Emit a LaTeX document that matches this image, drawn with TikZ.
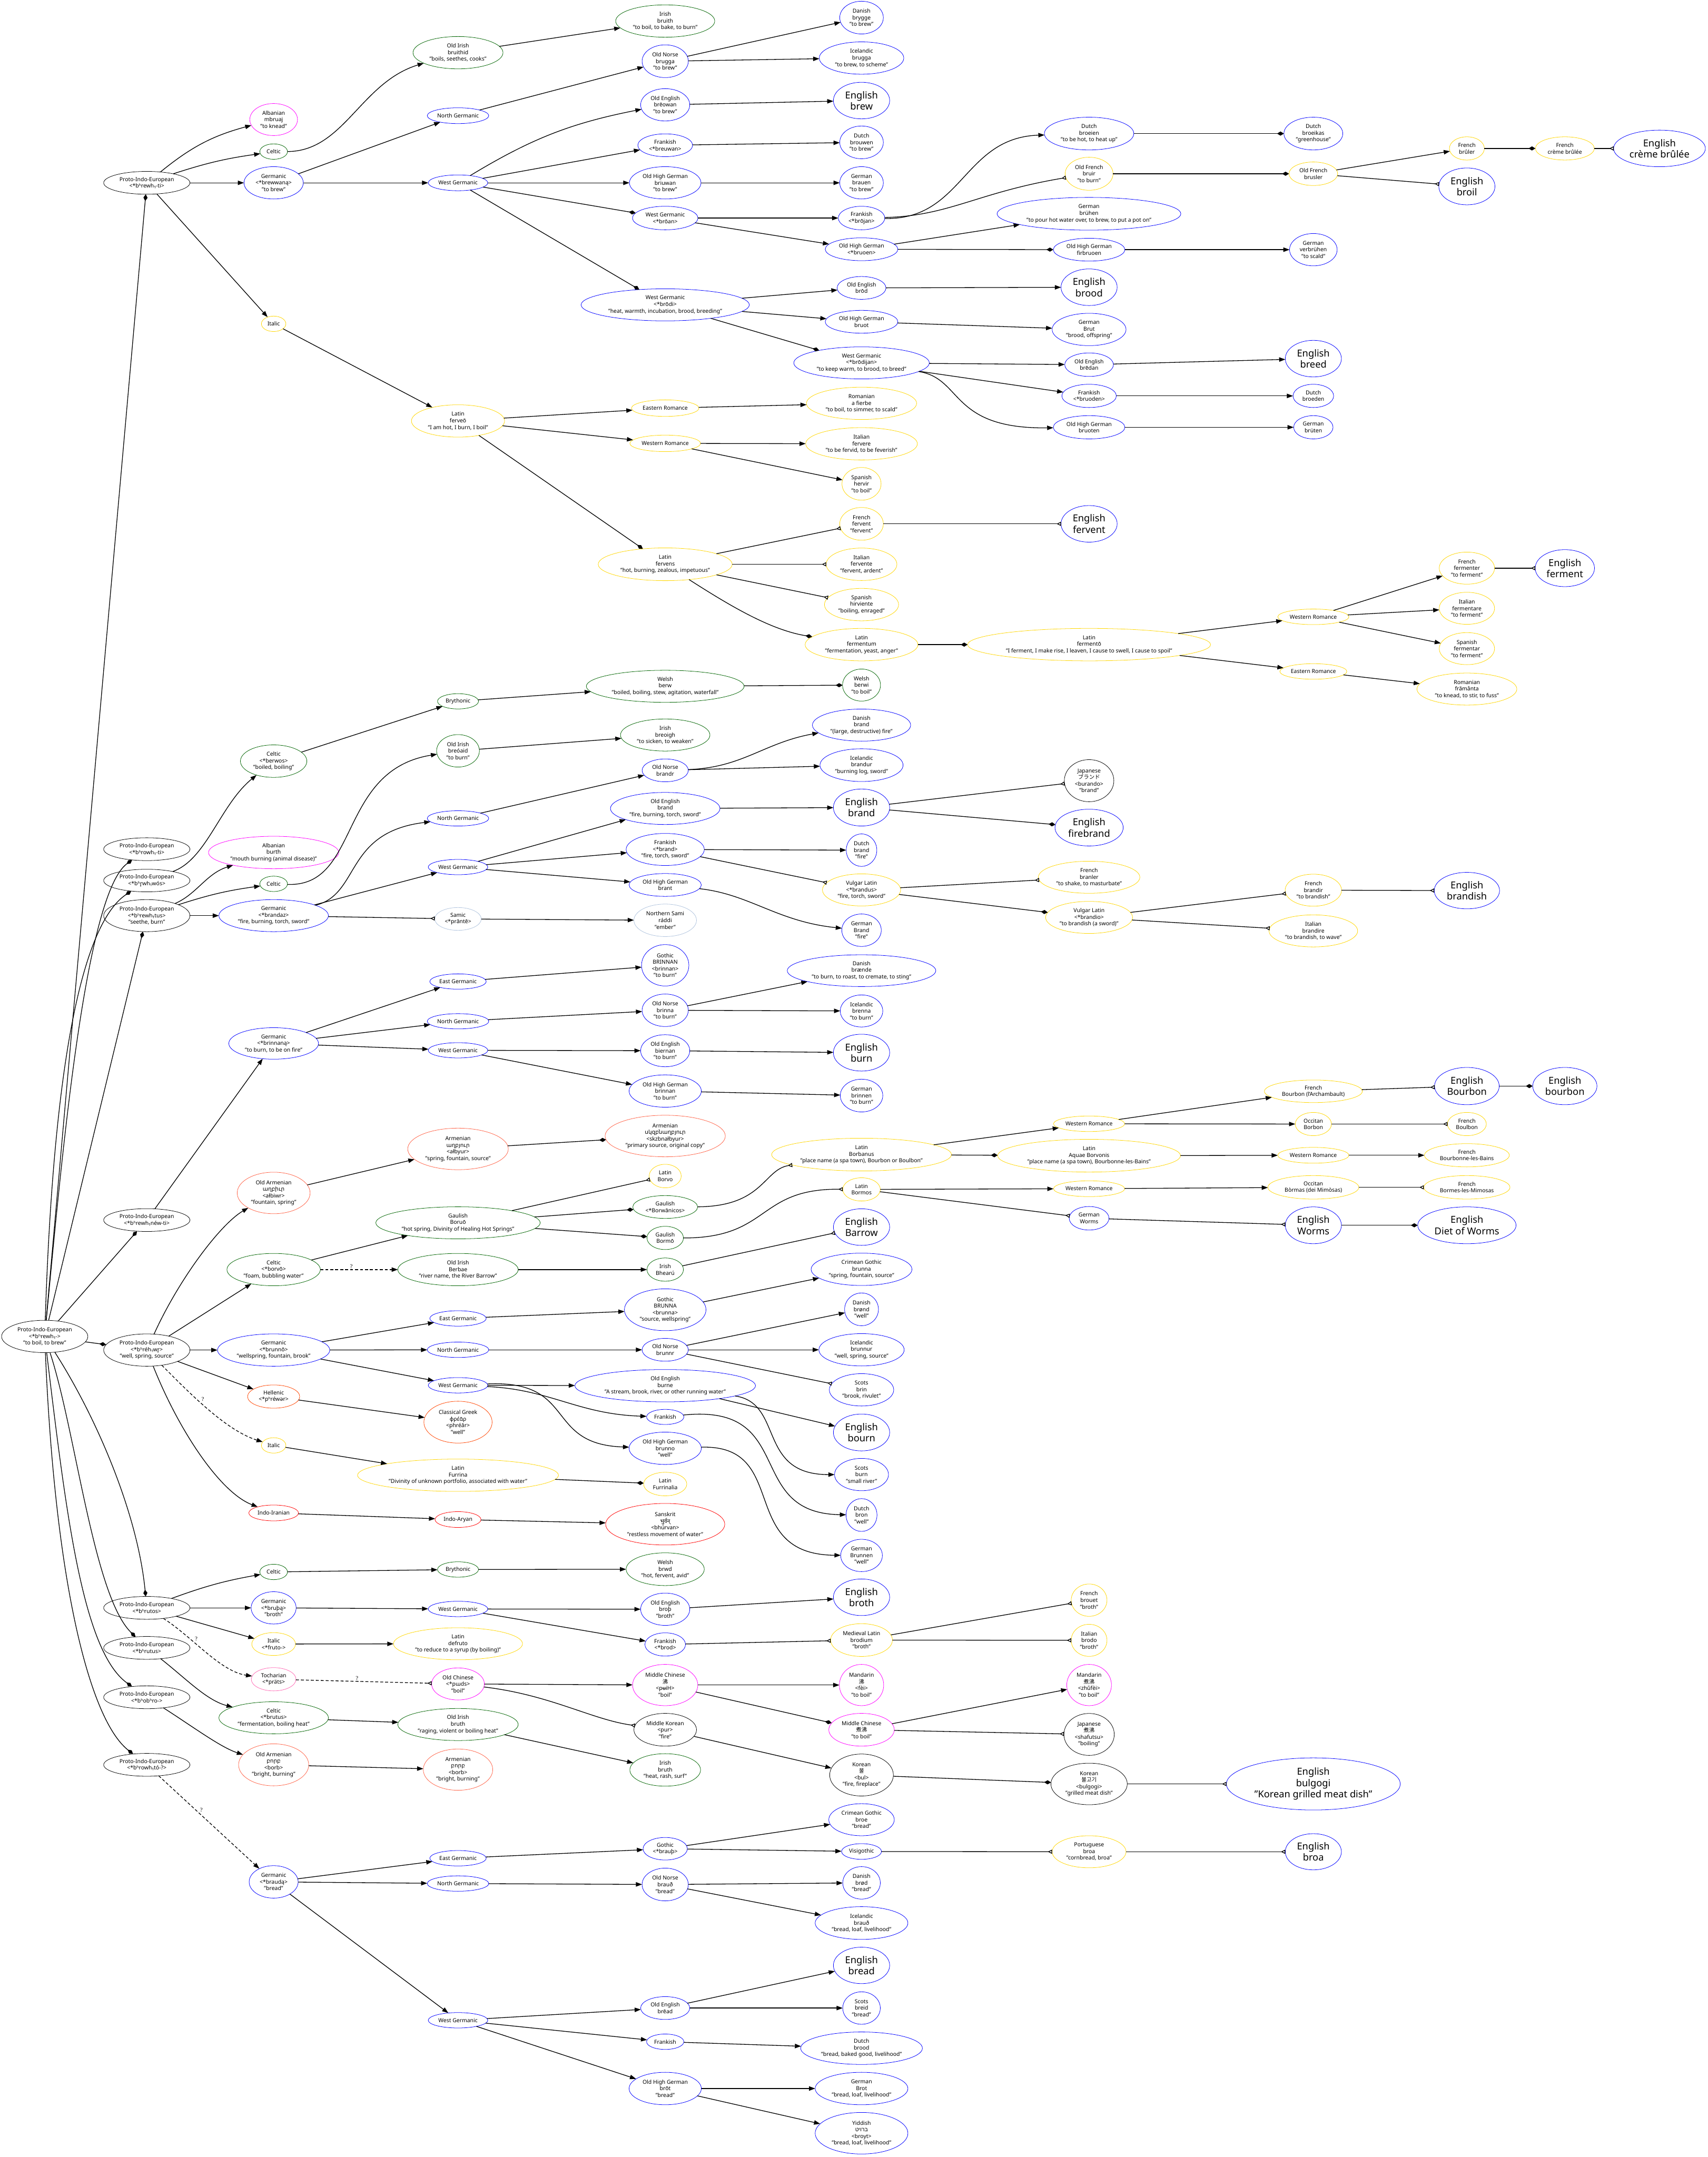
\documentclass[tikz,border=0pt]{standalone}
\usepackage{fontspec}
\setmainfont{Noto Sans}
\newfontfamily\cjk{Noto Sans CJK SC}
\newfontfamily\armfont{DejaVu Sans}
\newfontfamily\devfont[Script=Devanagari]{Noto Sans}
\newfontfamily\hebfont[Script=Hebrew]{Liberation Sans}
\newfontfamily\qfont{Liberation Serif}
\TeXXeTstate=1
\usetikzlibrary{arrows.meta,shapes.geometric}
\definecolor{gvblue}{HTML}{0000FF}
\definecolor{gvgreen}{HTML}{006400}
\definecolor{gvgold}{HTML}{FFD700}
\definecolor{gvmag}{HTML}{FF00FF}
\definecolor{gvtomato}{HTML}{FF6347}
\definecolor{gvorange}{HTML}{FF4500}
\definecolor{gvred}{HTML}{FF0000}
\definecolor{gvpink}{HTML}{FF69B4}
\definecolor{gvsteel}{HTML}{B0C4DE}
\tikzset{
  nd/.style={ellipse, draw, inner sep=0pt, outer sep=0pt, align=center, line width=0.3pt, font=\fontsize{4}{4.8}\selectfont},
  en/.style={nd, font=\fontsize{7}{8.2}\selectfont},
  sz/.style 2 args={minimum width=#1pt, minimum height=#2pt},
  bl/.style={draw=gvblue}, gr/.style={draw=gvgreen}, yl/.style={draw=gvgold},
  mg/.style={draw=gvmag}, tm/.style={draw=gvtomato}, he/.style={draw=gvorange},
  rd/.style={draw=gvred}, pk/.style={draw=gvpink}, sa/.style={draw=gvsteel}, bk/.style={draw=black},
  ar/.style={line width=0.5pt, -{Triangle[length=4.5pt,width=3.2pt]}},
  dm/.style={line width=0.5pt, -{Diamond[length=5pt,width=3pt]}},
  iv/.style={line width=0.5pt, -{Triangle[open,reversed,length=3.2pt,width=3pt]}},
  dsh/.style={dash pattern=on 2.2pt off 1.4pt},
  q/.style={font=\qfont\fontsize{4.2}{4.2}\selectfont, inner sep=0.6pt}
}
\begin{document}
\begin{tikzpicture}[x=1pt,y=-1pt]
\fill[white] (0,0) rectangle (1241.4,1568);
\useasboundingbox (0,0) rectangle (1241.4,1568);

% ---------------- top group ----------------
\node[nd,bk,sz={62.7}{23.5}] (pie) at (32.5,971.5) {Proto-Indo-European\\<*bʰrewh₁->\\"to boil, to brew"};
\node[nd,bk,sz={62.7}{16.6}] (pies) at (106.7,132.9) {Proto-Indo-European\\<*bʰrewh₁-ti>};
\node[nd,mg,sz={34.7}{23.3}] (alb1) at (198.9,86.9) {Albanian\\mbruaj\\"to knead"};
\node[nd,gr,sz={20.1}{11.2}] (cel1) at (198.9,110.2) {Celtic};
\node[nd,bl,sz={43.1}{23.5}] (ger1) at (198.9,132.9) {Germanic\\<*brewwaną>\\"to brew"};
\node[nd,yl,sz={17.8}{11.2}] (ita1) at (198.9,235.4) {Italic};
\node[nd,gr,sz={65.4}{23.5}] (oir1) at (332.9,38.3) {Old Irish\\bruithid\\"boils, seethes, cooks"};
\node[nd,bl,sz={44.7}{11.5}] (ngm1) at (332.9,84.1) {North Germanic};
\node[nd,bl,sz={43.3}{11.5}] (wgm1) at (332.9,132.9) {West Germanic};
\node[nd,yl,sz={67.7}{23.5}] (lat1) at (332.9,306.0) {Latin\\ferveō\\"I am hot, I burn, I boil"};
\node[nd,gr,sz={72.0}{23.5}] (iri1) at (483.5,15.3) {Irish\\bruith\\"to boil, to bake, to burn"};
\node[nd,bl,sz={31.7}{23.8}] (dan1) at (626.2,12.8) {Danish\\brygge\\"to brew"};
\node[nd,bl,sz={33.6}{23.8}] (on1) at (483.5,44.5) {Old Norse\\brugga\\"to brew"};
\node[nd,bl,sz={61.4}{23.5}] (ice1) at (626.2,42.2) {Icelandic\\brugga\\"to brew, to scheme"};
\node[nd,bl,sz={35.7}{23.5}] (oe1) at (483.5,76.2) {Old English\\brēowan\\"to brew"};
\node[en,bl,sz={40.9}{26.6}] (Ebrew) at (626.2,73.1) {English\\brew};
\node[nd,bl,sz={39.8}{16.6}] (fr1) at (483.5,105.6) {Frankish\\<*breuwan>};
\node[nd,bl,sz={31.7}{23.8}] (du1) at (626.2,103.5) {Dutch\\brouwen\\"to brew"};
\node[nd,bl,sz={52.0}{23.5}] (ohg1) at (483.5,132.9) {Old High German\\briuwan\\"to brew"};
\node[nd,bl,sz={31.7}{23.5}] (gm1) at (626.2,132.9) {German\\brauen\\"to brew"};
\node[nd,bl,sz={47.6}{17.1}] (wgb) at (483.5,158.5) {West Germanic\\<*brōan>};
\node[nd,bl,sz={33.8}{17.1}] (frb) at (626.2,158.5) {Frankish\\<*brōjan>};
\node[nd,bl,sz={52.8}{16.6}] (ohgb) at (626.2,181.2) {Old High German\\<*bruoen>};
\node[nd,bl,sz={122.3}{23.3}] (wgd) at (483.5,221.6) {West Germanic\\<*brōdi>\\"heat, warmth, incubation, brood, breeding"};
\node[nd,bl,sz={35.5}{16.6}] (oed) at (626.2,209.3) {Old English\\brōd};
\node[nd,bl,sz={52.8}{16.6}] (ohgd) at (626.2,233.9) {Old High German\\bruot};
\node[nd,bl,sz={98.5}{23.3}] (wgdj) at (626.2,263.8) {West Germanic\\<*brōdijan>\\"to keep warm, to brood, to breed"};
\node[nd,yl,sz={49.0}{12.0}] (er1) at (483.5,296.7) {Eastern Romance};
\node[nd,yl,sz={80.1}{23.5}] (rom1) at (626.2,293.2) {Romanian\\a fierbe\\"to boil, to simmer, to scald"};
\node[nd,yl,sz={51.4}{12.0}] (wr1) at (483.5,322.3) {Western Romance};
\node[nd,yl,sz={81.2}{23.5}] (itv) at (626.2,322.6) {Italian\\fervere\\"to be fervid, to be feverish"};
\node[nd,yl,sz={28.4}{23.8}] (sph) at (626.2,351.7) {Spanish\\hervir\\"to boil"};
\node[nd,yl,sz={31.7}{23.8}] (frf) at (626.2,380.8) {French\\fervent\\"fervent"};
\node[nd,yl,sz={97.4}{23.8}] (latfs) at (483.5,410.2) {Latin\\fervens\\"hot, burning, zealous, impetuous"};
\node[nd,bl,sz={65.0}{23.8}] (dubr) at (791.6,97.1) {Dutch\\broeien\\"to be hot, to heat up"};
\node[nd,bl,sz={42.8}{23.8}] (dubk) at (954.6,97.1) {Dutch\\broeikas\\"greenhouse"};
\node[nd,yl,sz={34.8}{24.0}] (ofb) at (791.6,126.3) {Old French\\bruir\\"to burn"};
\node[nd,yl,sz={35.4}{17.1}] (ofbs) at (954.6,126.3) {Old French\\brusler};
\node[nd,yl,sz={25.4}{16.9}] (frbr) at (1066.2,107.9) {French\\brûler};
\node[nd,yl,sz={42.8}{16.9}] (frcb) at (1137.4,107.9) {French\\crème brûlée};
\node[en,bl,sz={66.7}{26.6}] (Ecb) at (1206.2,107.9) {English\\crème brûlée};
\node[en,bl,sz={40.8}{26.8}] (Ebroil) at (1066.2,135.5) {English\\broil};
\node[nd,bl,sz={133.6}{23.8}] (gmbh) at (791.5,155.4) {German\\brühen\\"to pour hot water over, to brew, to put a pot on"};
\node[nd,bl,sz={52.0}{16.6}] (ohgf) at (791.6,181.5) {Old High German\\firbruoen};
\node[nd,bl,sz={34.6}{23.5}] (gmvb) at (954.6,181.5) {German\\verbrühen\\"to scald"};
\node[en,bl,sz={40.8}{26.6}] (Ebrood) at (791.6,208.8) {English\\brood};
\node[nd,bl,sz={53.7}{23.5}] (gmbt) at (791.6,239.5) {German\\Brut\\"brood, offspring"};
\node[nd,bl,sz={35.4}{17.1}] (oebd) at (791.6,265.1) {Old English\\brēdan};
\node[en,bl,sz={40.8}{26.6}] (Ebreed) at (954.6,260.7) {English\\breed};
\node[nd,bl,sz={39.6}{16.9}] (frbd) at (791.6,287.8) {Frankish\\<*bruoden>};
\node[nd,bl,sz={29.5}{16.9}] (dubd) at (954.6,287.8) {Dutch\\broeden};
\node[nd,bl,sz={52.0}{16.9}] (ohgbt) at (791.6,310.6) {Old High German\\bruoten};
\node[nd,bl,sz={28.6}{16.9}] (gmbrt) at (954.6,310.6) {German\\brüten};
\node[en,bl,sz={40.8}{26.6}] (Efervent) at (791.6,380.8) {English\\fervent};
\node[nd,yl,sz={51.4}{23.6}] (itfv) at (626.2,410.2) {Italian\\fervente\\"fervent, ardent"};
\node[nd,yl,sz={53.9}{23.6}] (sphv) at (626.2,439.5) {Spanish\\hirviente\\"boiling, enraged"};
\node[nd,yl,sz={82.0}{23.6}] (latfm) at (626.2,468.6) {Latin\\fermentum\\"fermentation, yeast, anger"};
\node[nd,yl,sz={176.6}{23.6}] (latfo) at (791.6,468.6) {Latin\\fermentō\\"I ferment, I make rise, I leaven, I cause to swell, I cause to spoil"};
\node[nd,yl,sz={40.2}{23.3}] (frfm) at (1066.2,413.0) {French\\fermenter\\"to ferment"};
\node[en,bl,sz={43.1}{26.9}] (Eferment) at (1137.4,413.0) {English\\ferment};
\node[nd,yl,sz={51.7}{11.3}] (wr2) at (954.6,448.4) {Western Romance};
\node[nd,yl,sz={40.2}{23.3}] (itfm) at (1066.2,442.2) {Italian\\fermentare\\"to ferment"};
\node[nd,yl,sz={40.2}{23.3}] (spfm) at (1066.2,471.5) {Spanish\\fermentar\\"to ferment"};
\node[nd,yl,sz={48.7}{11.3}] (er2) at (954.6,488.1) {Eastern Romance};
\node[nd,yl,sz={72.6}{23.3}] (romf) at (1066.2,500.9) {Romanian\\frământa\\"to knead, to stir, to fuss"};

% ---------------- brand group ----------------
\node[nd,bk,sz={62.7}{16.6}] (pieti) at (106.7,617.3) {Proto-Indo-European\\<*bʰrowh₁-ti>};
\node[nd,bk,sz={62.7}{16.4}] (piewos) at (106.7,640.1) {Proto-Indo-European\\<*bʰr̥wh₁wós>};
\node[nd,bk,sz={62.7}{23.3}] (pietus) at (106.7,665.6) {Proto-Indo-European\\<*bʰrewh₁tus>\\"seethe, burn"};
\node[nd,gr,sz={48.3}{23.6}] (celb) at (198.9,553.3) {Celtic\\<*berwos>\\"boiled, boiling"};
\node[nd,mg,sz={94.7}{23.6}] (alb2) at (198.9,619.7) {Albanian\\burth\\"mouth burning (animal disease)"};
\node[nd,gr,sz={20.1}{11.2}] (cel2) at (198.9,642.5) {Celtic};
\node[nd,bl,sz={79.6}{23.3}] (gerb) at (198.9,665.6) {Germanic\\<*brandaz>\\"fire, burning, torch, sword"};
\node[nd,gr,sz={29.8}{11.1}] (bry1) at (332.9,509.8) {Brythonic};
\node[nd,gr,sz={31.1}{23.6}] (oirb) at (332.9,545.8) {Old Irish\\breóaid\\"to burn"};
\node[nd,bl,sz={44.7}{11.1}] (ngm2) at (332.9,594.9) {North Germanic};
\node[nd,bl,sz={43.3}{11.1}] (wgm2) at (332.9,630.3) {West Germanic};
\node[nd,sa,sz={33.8}{16.6}] (sam) at (332.9,668.0) {Samic\\<*prāntē>};
\node[nd,gr,sz={114.7}{23.3}] (welb) at (483.5,498.9) {Welsh\\berw\\"boiled, boiling, stew, agitation, waterfall"};
\node[nd,gr,sz={27.6}{23.3}] (welbi) at (626.2,498.0) {Welsh\\berwi\\"to boil"};
\node[nd,gr,sz={65.0}{23.3}] (irbr) at (483.5,534.3) {Irish\\breoigh\\"to sicken, to weaken"};
\node[nd,bl,sz={71.4}{23.3}] (danbr) at (626.2,527.1) {Danish\\brand\\"(large, destructive) fire"};
\node[nd,bl,sz={33.6}{16.6}] (onbr) at (483.5,560.0) {Old Norse\\brandr};
\node[nd,bl,sz={60.4}{23.8}] (icebr) at (626.2,556.2) {Icelandic\\brandur\\"burning log, sword"};
\node[nd,bl,sz={79.6}{23.3}] (oebr) at (483.5,587.7) {Old English\\brand\\"fire, burning, torch, sword"};
\node[en,bl,sz={40.9}{26.9}] (Ebrand) at (626.2,587.0) {English\\brand};
\node[nd,bl,sz={56.8}{23.3}] (frbrd) at (483.5,617.5) {Frankish\\<*brand>\\"fire, torch, sword"};
\node[nd,bl,sz={22.2}{23.6}] (dubrd) at (626.2,618.0) {Dutch\\brand\\"fire"};
\node[nd,bl,sz={52.5}{16.6}] (ohgbr) at (483.5,643.3) {Old High German\\brant};
\node[nd,yl,sz={56.8}{23.3}] (vlbd) at (626.2,646.9) {Vulgar Latin\\<*brandus>\\"fire, torch, sword"};
\node[nd,sa,sz={45.5}{23.6}] (nsam) at (483.5,669.0) {Northern Sami\\ráddi\\"ember"};
\node[nd,bl,sz={28.7}{23.6}] (gmbrd) at (626.2,676.2) {German\\Brand\\"fire"};
\node[nd,bk,sz={36.0}{30.6}] (jabr) at (791.6,567.5) {Japanese\\{\cjk ブランド}\\<burando>\\"brand"};
\node[en,bl,sz={49.6}{26.7}] (Efb) at (791.6,601.6) {English\\firebrand};
\node[nd,yl,sz={73.8}{23.3}] (frbl) at (791.6,637.7) {French\\branler\\"to shake, to masturbate"};
\node[nd,yl,sz={63.2}{23.3}] (vlbo) at (791.6,666.9) {Vulgar Latin\\<*brandio>\\"to brandish (a sword)"};
\node[nd,yl,sz={41.0}{23.3}] (frbi) at (954.6,647.1) {French\\brandir\\"to brandish"};
\node[en,bl,sz={47.5}{26.5}] (Ebrandish) at (1066.2,647.4) {English\\brandish};
\node[nd,yl,sz={64.4}{23.3}] (itbr) at (954.6,676.7) {Italian\\brandire\\"to brandish, to wave"};

% ---------------- burn group ----------------
\node[nd,bk,sz={62.7}{16.6}] (pienew) at (106.7,886.9) {Proto-Indo-European\\<*bʰrewh₁néw-ti>};
\node[nd,bl,sz={65.2}{22.9}] (gerbr) at (198.9,758.5) {Germanic\\<*brinnaną>\\"to burn, to be on fire"};
\node[nd,bl,sz={41.0}{11.1}] (egm3) at (332.9,713.5) {East Germanic};
\node[nd,bl,sz={44.7}{11.1}] (ngm3) at (332.9,742.4) {North Germanic};
\node[nd,bl,sz={43.3}{11.1}] (wgm3) at (332.9,763.5) {West Germanic};
\node[nd,bl,sz={34.4}{30.1}] (gobr) at (483.5,701.7) {Gothic\\BRINNAN\\<brinnan>\\"to burn"};
\node[nd,bl,sz={108.0}{23.1}] (danbn) at (626.2,705.6) {Danish\\brænde\\"to burn, to roast, to cremate, to sting"};
\node[nd,bl,sz={33.6}{23.6}] (onbn) at (483.5,734.4) {Old Norse\\brinna\\"to burn"};
\node[nd,bl,sz={30.9}{23.3}] (icebn) at (626.2,734.9) {Icelandic\\brenna\\"to burn"};
\node[nd,bl,sz={35.7}{23.3}] (oebn) at (483.5,763.8) {Old English\\biernan\\"to burn"};
\node[en,bl,sz={40.9}{26.8}] (Eburn) at (626.2,765.2) {English\\burn};
\node[nd,bl,sz={52.5}{23.5}] (ohgbn) at (483.5,793.1) {Old High German\\brinnan\\"to burn"};
\node[nd,bl,sz={30.9}{23.8}] (gmbn) at (626.2,796.4) {German\\brinnen\\"to burn"};

% ---------------- well group ----------------
\node[nd,bk,sz={62.7}{23.5}] (piewr) at (106.7,981.4) {Proto-Indo-European\\<*bʰréh₁wr̥>\\"well, spring, source"};
\node[nd,tm,sz={53.0}{30.2}] (oarm1) at (198.9,867.2) {Old Armenian\\{\armfont աղբիւր}\\<ałbiwr>\\"fountain, spring"};
\node[nd,tm,sz={73.1}{30.2}] (arm1) at (332.9,835.2) {Armenian\\{\armfont աղբյուր}\\<ałbyur>\\"spring, fountain, source"};
\node[nd,tm,sz={87.4}{30.2}] (arm2) at (483.5,825.8) {Armenian\\{\armfont սկզբնաղբյուր}\\<skzbnałbyur>\\"primary source, original copy"};
\node[nd,gr,sz={67.9}{23.5}] (celbv) at (198.9,922.9) {Celtic\\<*borvō>\\"foam, bubbling water"};
\node[nd,gr,sz={119.5}{23.3}] (gaub) at (332.9,888.9) {Gaulish\\Boruō\\"hot spring, Divinity of Healing Hot Springs"};
\node[nd,gr,sz={87.5}{23.5}] (oirbb) at (332.9,922.9) {Old Irish\\Berbae\\"river name, the River Barrow"};
\node[nd,yl,sz={23.3}{17.1}] (latbv) at (483.5,854.9) {Latin\\Borvo};
\node[nd,gr,sz={47.1}{16.6}] (gaubw) at (483.5,877.4) {Gaulish\\<*Borwānicos>};
\node[nd,gr,sz={26.5}{16.9}] (gaubm) at (483.5,899.9) {Gaulish\\Bormō};
\node[nd,gr,sz={26.5}{16.9}] (irbh) at (483.5,922.9) {Irish\\Bhearú};
\node[nd,yl,sz={130.7}{23.8}] (latbb) at (626.2,839.3) {Latin\\Borbanus\\"place name (a spa town), Bourbon or Boulbon"};
\node[nd,yl,sz={27.3}{16.9}] (latbm) at (626.2,864.6) {Latin\\Bormos};
\node[en,bl,sz={40.9}{26.6}] (Ebarrow) at (626.2,892.0) {English\\Barrow};
\node[nd,yl,sz={51.7}{11.3}] (wra) at (791.6,816.9) {Western Romance};
\node[nd,yl,sz={132.9}{23.8}] (lataq) at (791.6,840.1) {Latin\\Aquae Borvonis\\"place name (a spa town), Bourbonne-les-Bains"};
\node[nd,yl,sz={51.7}{11.5}] (wrc) at (791.6,864.1) {Western Romance};
\node[nd,bl,sz={28.9}{17.1}] (gmw) at (791.6,885.6) {German\\Worms};
\node[nd,yl,sz={71.2}{16.4}] (frbb) at (954.6,793.3) {French\\Bourbon (l'Archambault)};
\node[en,bl,sz={47.0}{27.1}] (EBourbon) at (1066.2,789.5) {English\\Bourbon};
\node[en,bl,sz={46.7}{27.1}] (Ebourbon) at (1137.4,789.5) {English\\bourbon};
\node[nd,yl,sz={26.3}{16.9}] (ocb) at (954.6,817.1) {Occitan\\Borbon};
\node[nd,yl,sz={28.3}{16.9}] (frbou) at (1066.2,817.1) {French\\Boulbon};
\node[nd,yl,sz={51.7}{11.5}] (wrb) at (954.6,839.8) {Western Romance};
\node[nd,yl,sz={61.7}{16.9}] (frbob) at (1066.2,839.8) {French\\Bourbonne-les-Bains};
\node[nd,yl,sz={66.1}{17.1}] (ocbm) at (954.6,863.1) {Occitan\\Bòrmas (dei Mimòsas)};
\node[nd,yl,sz={62.6}{17.1}] (frbm) at (1066.2,863.1) {French\\Bormes-les-Mimosas};
\node[en,bl,sz={40.8}{26.8}] (Eworms) at (954.6,890.7) {English\\Worms};
\node[en,bl,sz={71.5}{26.8}] (Ediet) at (1066.2,890.7) {English\\Diet of Worms};
\node[nd,bl,sz={81.6}{23.5}] (gerbn) at (198.9,981.4) {Germanic\\<*brunnō>\\"wellspring, fountain, brook"};
\node[nd,bl,sz={41.0}{11.2}] (egm4) at (332.9,958.4) {East Germanic};
\node[nd,bl,sz={44.7}{11.2}] (ngm4) at (332.9,981.2) {North Germanic};
\node[nd,bl,sz={43.3}{11.2}] (wgm4) at (332.9,1007.0) {West Germanic};
\node[nd,bl,sz={73.3}{23.5}] (cgbn) at (626.2,922.7) {Crimean Gothic\\brunna\\"spring, fountain, source"};
\node[nd,bl,sz={59.3}{30.4}] (gobn) at (483.5,952.1) {Gothic\\BRUNNA\\<brunna>\\"source, wellspring"};
\node[nd,bl,sz={24.6}{23.8}] (danbd) at (626.2,951.8) {Danish\\brønd\\"well"};
\node[nd,bl,sz={33.6}{16.6}] (onbnr) at (483.5,981.2) {Old Norse\\brunnr};
\node[nd,bl,sz={62.0}{23.5}] (icebnr) at (626.2,981.2) {Icelandic\\brunnur\\"well, spring, source"};
\node[nd,bl,sz={46.8}{23.5}] (scbr) at (626.2,1010.3) {Scots\\brin\\"brook, rivulet"};
\node[nd,bl,sz={131.3}{23.5}] (oebu) at (483.5,1007.3) {Old English\\burne\\"A stream, brook, river, or other running water"};
\node[nd,bl,sz={27.1}{11.0}] (frk4) at (483.5,1030.0) {Frankish};
\node[en,bl,sz={40.9}{26.8}] (Ebourn) at (626.2,1041.3) {English\\bourn};
\node[nd,bl,sz={52.5}{23.5}] (ohgbo) at (483.5,1052.8) {Old High German\\brunno\\"well"};
\node[nd,bl,sz={39.2}{23.5}] (scbu) at (626.2,1071.9) {Scots\\burn\\"small river"};
\node[nd,bl,sz={22.5}{23.8}] (dubn) at (626.2,1101.3) {Dutch\\bron\\"well"};
\node[nd,bl,sz={30.3}{23.5}] (gmbu) at (626.2,1130.7) {German\\Brunnen\\"well"};
\node[nd,he,sz={37.9}{16.9}] (hel) at (198.9,1015.2) {Hellenic\\<*pʰréwər>};
\node[nd,he,sz={49.6}{30.4}] (grk) at (332.9,1033.8) {Classical Greek\\φρέᾱρ\\<phréār>\\"well"};
\node[nd,yl,sz={17.8}{11.2}] (ita2) at (198.9,1050.7) {Italic};
\node[nd,yl,sz={146.1}{23.5}] (latfu) at (332.9,1072.4) {Latin\\Furrina\\"Divinity of unknown portfolio, associated with water"};
\node[nd,yl,sz={31.4}{17.1}] (latfl) at (483.5,1078.8) {Latin\\Furrinalia};
\node[nd,rd,sz={36.1}{11.5}] (iir) at (198.9,1099.8) {Indo-Iranian};
\node[nd,rd,sz={33.4}{11.5}] (iar) at (332.9,1104.6) {Indo-Aryan};
\node[nd,rd,sz={86.6}{30.2}] (skt) at (483.5,1108.0) {Sanskrit\\{\devfont भुर्वन्}\\<bhúrvan>\\"restless movement of water"};

% ---------------- broth group ----------------
\node[nd,bk,sz={62.7}{16.6}] (pieros) at (106.7,1168.8) {Proto-Indo-European\\<*bʰrutos>};
\node[nd,gr,sz={20.1}{11.2}] (cel5) at (198.9,1142.7) {Celtic};
\node[nd,gr,sz={29.8}{11.2}] (bry5) at (332.9,1140.9) {Brythonic};
\node[nd,gr,sz={56.8}{23.8}] (welbw) at (483.5,1140.7) {Welsh\\brwd\\"hot, fervent, avid"};
\node[nd,bl,sz={32.7}{23.5}] (gerbt) at (198.9,1168.8) {Germanic\\<*bruþą>\\"broth"};
\node[nd,bl,sz={43.3}{11.2}] (wgm5) at (332.9,1169.6) {West Germanic};
\node[nd,bl,sz={35.7}{23.5}] (oebt) at (483.5,1169.8) {Old English\\broþ\\"broth"};
\node[en,bl,sz={40.9}{26.6}] (Ebroth) at (626.2,1161.1) {English\\broth};
\node[nd,bl,sz={29.5}{16.9}] (frbrod) at (483.5,1195.4) {Frankish\\<*brod>};
\node[nd,yl,sz={44.9}{23.8}] (mlb) at (626.2,1192.2) {Medieval Latin\\brodium\\"broth"};
\node[nd,yl,sz={26.0}{23.5}] (frbt) at (791.6,1163.2) {French\\brouet\\"broth"};
\node[nd,yl,sz={26.0}{23.3}] (itbd) at (791.6,1192.4) {Italian\\brodo\\"broth"};
\node[nd,bk,sz={62.7}{16.6}] (pierus) at (106.7,1197.9) {Proto-Indo-European\\<*bʰrutus>};
\node[nd,yl,sz={31.8}{16.6}] (itfr) at (198.9,1195.1) {Italic\\<*fruto->};
\node[nd,yl,sz={93.8}{23.3}] (latdf) at (332.9,1194.9) {Latin\\defruto\\"to reduce to a syrup (by boiling)"};
\node[nd,pk,sz={32.5}{16.9}] (toc) at (198.9,1220.7) {Tocharian\\<*präts>};
\node[nd,mg,sz={38.3}{23.3}] (och) at (332.9,1224.1) {Old Chinese\\<*pɯds>\\"boil"};
\node[nd,mg,sz={47.4}{30.0}] (mch1) at (483.5,1224.9) {Middle Chinese\\{\cjk 沸}\\<pʉiH>\\"boil"};
\node[nd,mg,sz={32.2}{30.0}] (man1) at (626.2,1224.9) {Mandarin\\{\cjk 沸}\\<fèi>\\"to boil"};
\node[nd,bk,sz={45.5}{23.8}] (mko) at (483.5,1257.4) {Middle Korean\\<pur>\\"fire"};
\node[nd,mg,sz={47.6}{23.8}] (mch2) at (626.2,1257.4) {Middle Chinese\\{\cjk 煮沸}\\"to boil"};
\node[nd,mg,sz={32.5}{30.0}] (man2) at (791.6,1224.9) {Mandarin\\{\cjk 煮沸}\\<zhǔfèi>\\"to boil"};
\node[nd,bk,sz={36.6}{30.5}] (jash) at (791.6,1260.8) {Japanese\\{\cjk 煮沸}\\<shafutsu>\\"boiling"};
\node[nd,bk,sz={46.3}{30.5}] (kor1) at (626.2,1290.3) {Korean\\{\cjk 불}\\<bul>\\"fire, fireplace"};
\node[nd,bk,sz={55.5}{30.2}] (kor2) at (791.6,1296.8) {Korean\\{\cjk 불고기}\\<bulgogi>\\"grilled meat dish"};
\node[en,bl,sz={126.4}{37.9}] (Ebul) at (954.6,1296.8) {English\\bulgogi\\"Korean grilled meat dish"};
\node[nd,gr,sz={79.6}{23.3}] (celbt) at (198.9,1248.7) {Celtic\\<*brutus>\\"fermentation, boiling heat"};
\node[nd,gr,sz={87.5}{23.3}] (oirbt) at (332.9,1253.6) {Old Irish\\bruth\\"raging, violent or boiling heat"};
\node[nd,gr,sz={51.4}{23.6}] (irbt) at (483.5,1286.6) {Irish\\bruth\\"heat, rash, surf"};
\node[nd,bk,sz={62.7}{16.6}] (piebo) at (106.7,1233.8) {Proto-Indo-European\\<*bʰobʰro->};
\node[nd,tm,sz={51.0}{30.5}] (oarm2) at (198.9,1282.9) {Old Armenian\\{\armfont բորբ}\\<borb>\\"bright, burning"};
\node[nd,tm,sz={50.5}{30.0}] (arm3) at (332.9,1286.4) {Armenian\\{\armfont բորբ}\\<borb>\\"bright, burning"};
\node[nd,bk,sz={62.7}{16.6}] (pierw) at (106.7,1282.9) {Proto-Indo-European\\<*bʰrowh₁tó-?>};

% ---------------- bread group ----------------
\node[nd,bl,sz={35.6}{23.6}] (gerbd) at (198.9,1368.0) {Germanic\\<*braudą>\\"bread"};
\node[nd,bl,sz={41.0}{11.2}] (egm6) at (332.9,1350.8) {East Germanic};
\node[nd,bl,sz={44.7}{11.2}] (ngm6) at (332.9,1369.2) {North Germanic};
\node[nd,bl,sz={43.3}{11.2}] (wgm6) at (332.9,1468.6) {West Germanic};
\node[nd,bl,sz={47.6}{23.3}] (cgbr) at (626.2,1322.8) {Crimean Gothic\\broe\\"bread"};
\node[nd,bl,sz={32.2}{16.4}] (gobd) at (483.5,1343.9) {Gothic\\<*brauþ>};
\node[nd,bl,sz={29.0}{11.4}] (visg) at (626.2,1345.9) {Visigothic};
\node[nd,yl,sz={53.7}{23.3}] (ptb) at (791.6,1346.1) {Portuguese\\broa\\"cornbread, broa"};
\node[en,bl,sz={40.8}{26.3}] (Ebroa) at (954.6,1346.1) {English\\broa};
\node[nd,bl,sz={33.6}{23.8}] (onbd) at (483.5,1369.9) {Old Norse\\brauð\\"bread"};
\node[nd,bl,sz={27.3}{23.6}] (danbrd) at (626.2,1368.7) {Danish\\brød\\"bread"};
\node[nd,bl,sz={67.4}{23.8}] (icebd) at (626.2,1397.9) {Icelandic\\brauð\\"bread, loaf, livelihood"};
\node[en,bl,sz={40.9}{26.5}] (Ebread) at (626.2,1428.7) {English\\bread};
\node[nd,bl,sz={35.7}{16.6}] (oebd2) at (483.5,1459.7) {Old English\\brēad};
\node[nd,bl,sz={27.3}{23.6}] (scbd) at (626.2,1459.7) {Scots\\breid\\"bread"};
\node[nd,bl,sz={27.1}{11.2}] (frk6) at (483.5,1484.2) {Frankish};
\node[nd,bl,sz={88.5}{23.6}] (dubo) at (626.2,1488.9) {Dutch\\brood\\"bread, baked good, livelihood"};
\node[nd,bl,sz={52.5}{23.6}] (ohgbd) at (483.5,1518.2) {Old High German\\brōt\\"bread"};
\node[nd,bl,sz={67.4}{23.6}] (gmbo) at (626.2,1518.2) {German\\Brot\\"bread, loaf, livelihood"};
\node[nd,bl,sz={67.4}{30.2}] (yid) at (626.2,1550.7) {Yiddish\\{\hebfont\beginR ברויט\endR}\\<broyt>\\"bread, loaf, livelihood"};

% ================= edges =================
% top
\draw[dm] (pie) -- (pies);
\draw[ar] (pies) to[bend left=12] (alb1);
\draw[ar] (pies) to[bend left=5] (cel1);
\draw[ar] (pies) -- (ger1);
\draw[ar] (pies) -- (ita1);
\draw[ar] (cel1) .. controls (250,110) and (262,60) .. (oir1);
\draw[ar] (oir1) -- (iri1);
\draw[ar] (ger1) -- (ngm1);
\draw[ar] (ger1) -- (wgm1);
\draw[ar] (ngm1) -- (on1);
\draw[ar] (on1) -- (dan1);
\draw[ar] (on1) -- (ice1);
\draw[ar] (wgm1) to[bend left=10] (oe1);
\draw[ar] (wgm1) -- (fr1);
\draw[ar] (wgm1) -- (ohg1);
\draw[dm] (wgm1) -- (wgb);
\draw[dm] (wgm1) -- (wgd);
\draw[ar] (oe1) -- (Ebrew);
\draw[ar] (fr1) -- (du1);
\draw[ar] (ohg1) -- (gm1);
\draw[ar] (wgb) -- (frb);
\draw[ar] (wgb) -- (ohgb);
\draw[ar] (frb) .. controls (700,160) and (700,100) .. (dubr);
\draw[iv] (frb) .. controls (690,157) and (710,140) .. (ofb);
\draw[ar] (ohgb) -- (gmbh);
\draw[dm] (ohgb) -- (ohgf);
\draw[ar] (wgd) -- (oed);
\draw[ar] (wgd) -- (ohgd);
\draw[dm] (wgd) -- (wgdj);
\draw[ar] (oed) -- (Ebrood);
\draw[ar] (ohgd) -- (gmbt);
\draw[ar] (wgdj) -- (oebd);
\draw[ar] (wgdj) -- (frbd);
\draw[ar] (wgdj) .. controls (700,275) and (690,312) .. (ohgbt);
\draw[ar] (oebd) -- (Ebreed);
\draw[ar] (frbd) -- (dubd);
\draw[ar] (ohgbt) -- (gmbrt);
\draw[dm] (dubr) -- (dubk);
\draw[dm] (ofb) -- (ofbs);
\draw[ar] (ofbs) -- (frbr);
\draw[iv] (ofbs) -- (Ebroil);
\draw[dm] (frbr) -- (frcb);
\draw[iv] (frcb) -- (Ecb);
\draw[ar] (ohgf) -- (gmvb);
\draw[ar] (ita1) -- (lat1);
\draw[ar] (lat1) -- (er1);
\draw[ar] (lat1) -- (wr1);
\draw[dm] (lat1) -- (latfs);
\draw[ar] (er1) -- (rom1);
\draw[ar] (wr1) -- (itv);
\draw[ar] (wr1) -- (sph);
\draw[iv] (latfs) -- (frf);
\draw[iv] (frf) -- (Efervent);
\draw[iv] (latfs) -- (itfv);
\draw[iv] (latfs) -- (sphv);
\draw[dm] (latfs) .. controls (530,440) and (560,458) .. (latfm);
\draw[dm] (latfm) -- (latfo);
\draw[ar] (latfo) -- (wr2);
\draw[ar] (latfo) -- (er2);
\draw[ar] (wr2) -- (frfm);
\draw[ar] (wr2) -- (itfm);
\draw[ar] (wr2) -- (spfm);
\draw[ar] (er2) -- (romf);
\draw[iv] (frfm) -- (Eferment);

% brand
\draw[dm] (pie) .. controls (45,840) and (62,650) .. (pieti);
\draw[dm] (pie) .. controls (38,800) and (55,675) .. (piewos);
\draw[dm] (pie) -- (pietus);
\draw[ar] (piewos) .. controls (150,625) and (160,585) .. (celb);
\draw[ar] (celb) -- (bry1);
\draw[ar] (bry1) -- (welb);
\draw[dm] (welb) -- (welbi);
\draw[ar] (pietus) .. controls (143,650) and (150,635) .. (alb2);
\draw[ar] (pietus) to[bend left=5] (cel2);
\draw[ar] (pietus) -- (gerb);
\draw[ar] (cel2) .. controls (262,645) and (245,560) .. (oirb);
\draw[ar] (oirb) -- (irbr);
\draw[ar] (gerb) .. controls (262,650) and (250,605) .. (ngm2);
\draw[ar] (gerb) -- (wgm2);
\draw[iv] (gerb) -- (sam);
\draw[ar] (sam) -- (nsam);
\draw[ar] (ngm2) -- (onbr);
\draw[ar] (onbr) .. controls (540,558) and (555,540) .. (danbr);
\draw[ar] (onbr) -- (icebr);
\draw[ar] (wgm2) -- (oebr);
\draw[ar] (wgm2) -- (frbrd);
\draw[ar] (wgm2) -- (ohgbr);
\draw[ar] (oebr) -- (Ebrand);
\draw[iv] (Ebrand) -- (jabr);
\draw[dm] (Ebrand) -- (Efb);
\draw[ar] (frbrd) -- (dubrd);
\draw[iv] (frbrd) -- (vlbd);
\draw[ar] (ohgbr) .. controls (545,650) and (565,670) .. (gmbrd);
\draw[iv] (vlbd) -- (frbl);
\draw[dm] (vlbd) -- (vlbo);
\draw[iv] (vlbo) -- (frbi);
\draw[iv] (vlbo) -- (itbr);
\draw[iv] (frbi) -- (Ebrandish);

% burn
\draw[dm] (pie) -- (pienew);
\draw[ar] (pienew) -- (gerbr);
\draw[ar] (gerbr) -- (egm3);
\draw[ar] (gerbr) -- (ngm3);
\draw[ar] (gerbr) -- (wgm3);
\draw[ar] (egm3) -- (gobr);
\draw[ar] (ngm3) -- (onbn);
\draw[ar] (onbn) -- (danbn);
\draw[ar] (onbn) -- (icebn);
\draw[ar] (wgm3) -- (oebn);
\draw[ar] (wgm3) -- (ohgbn);
\draw[ar] (oebn) -- (Eburn);
\draw[ar] (ohgbn) -- (gmbn);

% well
\draw[dm] (pie) -- (piewr);
\draw[ar] (piewr) .. controls (130,930) and (160,890) .. (oarm1);
\draw[ar] (piewr) -- (celbv);
\draw[ar] (piewr) -- (gerbn);
\draw[ar] (piewr) -- (hel);
\draw[ar,dsh] (piewr) .. controls (140,1015) and (165,1040) .. (ita2) node[q,pos=0.4,above right]{?};
\draw[ar] (piewr) .. controls (130,1040) and (160,1085) .. (iir);
\draw[ar] (oarm1) -- (arm1);
\draw[dm] (arm1) -- (arm2);
\draw[ar] (celbv) -- (gaub);
\draw[ar,dsh] (celbv) -- (oirbb) node[q,pos=0.4,above]{?};
\draw[iv] (gaub) -- (latbv);
\draw[dm] (gaub) -- (gaubw);
\draw[dm] (gaub) -- (gaubm);
\draw[iv] (gaubw) .. controls (555,877) and (555,850) .. (latbb);
\draw[iv] (gaubm) .. controls (560,900) and (550,864) .. (latbm);
\draw[ar] (oirbb) -- (irbh);
\draw[iv] (irbh) -- (Ebarrow);
\draw[ar] (latbb) -- (wra);
\draw[dm] (latbb) -- (lataq);
\draw[ar] (latbm) -- (wrc);
\draw[iv] (latbm) -- (gmw);
\draw[ar] (wra) -- (frbb);
\draw[ar] (wra) -- (ocb);
\draw[iv] (frbb) -- (EBourbon);
\draw[dm] (EBourbon) -- (Ebourbon);
\draw[iv] (ocb) -- (frbou);
\draw[ar] (lataq) -- (wrb);
\draw[ar] (wrb) -- (frbob);
\draw[ar] (wrc) -- (ocbm);
\draw[iv] (ocbm) -- (frbm);
\draw[iv] (gmw) -- (Eworms);
\draw[dm] (Eworms) -- (Ediet);
\draw[ar] (gerbn) -- (egm4);
\draw[ar] (gerbn) -- (ngm4);
\draw[ar] (gerbn) -- (wgm4);
\draw[ar] (egm4) -- (gobn);
\draw[ar] (gobn) -- (cgbn);
\draw[ar] (ngm4) -- (onbnr);
\draw[ar] (onbnr) -- (danbd);
\draw[ar] (onbnr) -- (icebnr);
\draw[iv] (onbnr) -- (scbr);
\draw[ar] (wgm4) -- (oebu);
\draw[ar] (wgm4) .. controls (400,1010) and (420,1028) .. (frk4);
\draw[ar] (wgm4) .. controls (420,1003) and (395,1050) .. (ohgbo);
\draw[ar] (oebu) -- (Ebourn);
\draw[ar] (oebu) .. controls (570,1020) and (550,1072) .. (scbu);
\draw[ar] (frk4) .. controls (580,1020) and (540,1100) .. (dubn);
\draw[ar] (ohgbo) .. controls (575,1050) and (535,1130) .. (gmbu);
\draw[ar] (hel) -- (grk);
\draw[ar] (ita2) -- (latfu);
\draw[dm] (latfu) -- (latfl);
\draw[ar] (iir) -- (iar);
\draw[ar] (iar) -- (skt);

% broth
\draw[dm] (pie) .. controls (70,1030) and (100,1100) .. (pieros);
\draw[ar] (pieros) to[bend left=5] (cel5);
\draw[ar] (pieros) -- (gerbt);
\draw[ar] (pieros) -- (itfr);
\draw[ar,dsh] (pieros) .. controls (140,1190) and (160,1215) .. (toc) node[q,pos=0.35,above right]{?};
\draw[ar] (cel5) -- (bry5);
\draw[ar] (bry5) -- (welbw);
\draw[ar] (gerbt) -- (wgm5);
\draw[ar] (wgm5) -- (oebt);
\draw[ar] (wgm5) -- (frbrod);
\draw[ar] (oebt) -- (Ebroth);
\draw[iv] (frbrod) -- (mlb);
\draw[iv] (mlb) -- (frbt);
\draw[iv] (mlb) -- (itbd);
\draw[ar] (itfr) -- (latdf);
\draw[iv,dsh] (toc) -- (och) node[q,pos=0.45,above]{?};
\draw[ar] (och) -- (mch1);
\draw[iv] (och) .. controls (400,1232) and (430,1250) .. (mko);
\draw[ar] (mch1) -- (man1);
\draw[dm] (mch1) -- (mch2);
\draw[ar] (mch2) -- (man2);
\draw[iv] (mch2) -- (jash);
\draw[ar] (mko) -- (kor1);
\draw[dm] (kor1) -- (kor2);
\draw[iv] (kor2) -- (Ebul);
\draw[dm] (pie) .. controls (55,1040) and (68,1160) .. (pierus);
\draw[ar] (pierus) .. controls (135,1220) and (150,1236) .. (celbt);
\draw[ar] (celbt) -- (oirbt);
\draw[ar] (oirbt) -- (irbt);
\draw[dm] (pie) .. controls (48,1100) and (60,1200) .. (piebo);
\draw[ar] (piebo) .. controls (140,1255) and (160,1270) .. (oarm2);
\draw[ar] (oarm2) -- (arm3);
\draw[dm] (pie) .. controls (40,1150) and (65,1250) .. (pierw);
\draw[ar,dsh] (pierw) -- (gerbd) node[q,pos=0.4,above right]{?};

% bread
\draw[ar] (gerbd) -- (egm6);
\draw[ar] (gerbd) -- (ngm6);
\draw[ar] (gerbd) -- (wgm6);
\draw[ar] (egm6) -- (gobd);
\draw[ar] (gobd) -- (cgbr);
\draw[ar] (gobd) -- (visg);
\draw[iv] (visg) -- (ptb);
\draw[iv] (ptb) -- (Ebroa);
\draw[ar] (ngm6) -- (onbd);
\draw[ar] (onbd) -- (danbrd);
\draw[ar] (onbd) -- (icebd);
\draw[ar] (wgm6) -- (oebd2);
\draw[ar] (wgm6) -- (frk6);
\draw[ar] (wgm6) -- (ohgbd);
\draw[ar] (oebd2) -- (Ebread);
\draw[ar] (oebd2) -- (scbd);
\draw[ar] (frk6) -- (dubo);
\draw[ar] (ohgbd) -- (gmbo);
\draw[ar] (ohgbd) -- (yid);
\end{tikzpicture}
\end{document}
